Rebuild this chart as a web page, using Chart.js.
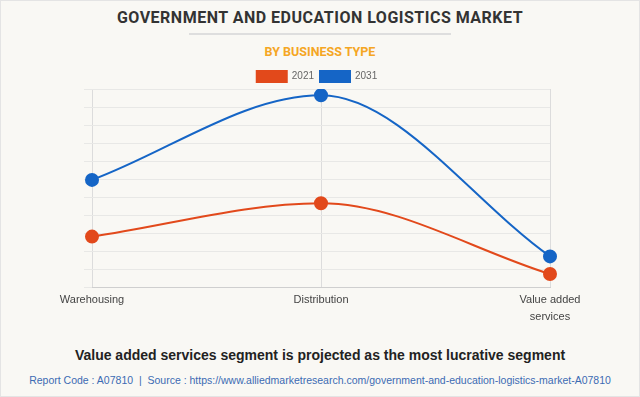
<!DOCTYPE html>
<html>
<head>
<meta charset="utf-8">
<script src="https://cdn.jsdelivr.net/npm/chart.js@4/dist/chart.umd.min.js"></script>
<style>
  html, body { margin: 0; padding: 0; }
  body { width: 640px; height: 397px; background: #f9f8f4; position: relative; overflow: hidden; font-family: Arial, "Liberation Sans", sans-serif; }
  #frame { position: absolute; left: 0; top: 0; width: 638px; height: 395px; border: 1px solid #e4e4e4; }
  #title { position: absolute; left: 0; width: 640px; top: 8px; text-align: center; font: bold 16px Roboto, Arial, sans-serif; color: #333; letter-spacing: 0.5px; }
  #rule { position: absolute; left: 189px; width: 262px; top: 33px; height: 0; border-top: 2px solid #dedede; }
  #sub { position: absolute; left: 0; width: 640px; top: 44px; text-align: center; font: bold 12.5px Roboto, Arial, sans-serif; color: #f5a623; }
  #canvasWrap { position: absolute; left: 0; top: 0; width: 640px; height: 330px; }
  #note { position: absolute; left: 0; width: 640px; top: 347px; text-align: center; font: bold 14px Arial, "Liberation Sans", sans-serif; color: #222; }
  #src { position: absolute; left: 0; width: 640px; top: 374px; text-align: center; font: 10.5px Arial, "Liberation Sans", sans-serif; color: #3c6bb3; }
</style>
</head>
<body>
<div id="frame"></div>
<div id="title">GOVERNMENT AND EDUCATION LOGISTICS MARKET</div>
<div id="rule"></div>
<div id="sub">BY BUSINESS TYPE</div>
<div id="canvasWrap"><canvas id="c" width="640" height="330"></canvas></div>
<div id="note">Value added services segment is projected as the most lucrative segment</div>
<div id="src">Report Code : A07810 &nbsp;|&nbsp; Source : https://www.alliedmarketresearch.com/government-and-education-logistics-market-A07810</div>
<script>
const categories = ["Warehousing", "Distribution", ["Value added", "services"]];
const seriesNames = ["2021", "2031"];
const values2021 = [2.8, 4.65, 0.72];
const values2031 = [5.95, 10.65, 1.7];
const yTicks = { min: 0, max: 11, step: 1 };

const red = "#e2491b";
const blue = "#1565c6";

const legendNudge = {
  id: "legendNudge",
  afterLayout(chart) {
    if (chart.legend) { chart.legend.top += 3; chart.legend.bottom += 3; }
  }
};

new Chart(document.getElementById("c"), {
  type: "line",
  data: {
    labels: categories,
    datasets: [
      { label: seriesNames[0], data: values2021, borderColor: red, backgroundColor: red,
        pointBackgroundColor: red, pointBorderColor: red, pointRadius: 6, pointHoverRadius: 6,
        borderWidth: 2, cubicInterpolationMode: "monotone", fill: false },
      { label: seriesNames[1], data: values2031, borderColor: blue, backgroundColor: blue,
        pointBackgroundColor: blue, pointBorderColor: blue, pointRadius: 6, pointHoverRadius: 6,
        borderWidth: 2, cubicInterpolationMode: "monotone", fill: false }
    ]
  },
  plugins: [legendNudge],
  options: {
    responsive: false,
    animation: false,
    layout: { padding: { left: 84, right: 90, top: 62, bottom: 0 } },
    plugins: {
      legend: {
        display: true,
        position: "top",
        labels: { boxWidth: 30, boxHeight: 11, padding: 6, color: "#666",
          font: { family: "Arial, 'Liberation Sans', sans-serif", size: 10 } }
      },
      tooltip: { enabled: false },
      title: { display: false }
    },
    scales: {
      x: {
        offset: false,
        grid: { display: true, color: "#dcdcdc", drawTicks: false, lineWidth: 1 },
        border: { display: true, color: "#cfcfcf", width: 1 },
        ticks: { color: "#444", padding: 5, maxRotation: 0, autoSkip: false,
          font: { family: "Arial, 'Liberation Sans', sans-serif", size: 11, lineHeight: 1.5 } },
        afterFit: (s) => { s.height = 43; }
      },
      y: {
        min: yTicks.min, max: yTicks.max,
        grid: { color: "#e8e8e6", drawTicks: true, tickLength: 8, lineWidth: 1 },
        border: { display: false },
        ticks: { display: false, stepSize: yTicks.step },
        afterFit: (s) => { s.width = 8; }
      }
    }
  }
});
</script>
</body>
</html>
